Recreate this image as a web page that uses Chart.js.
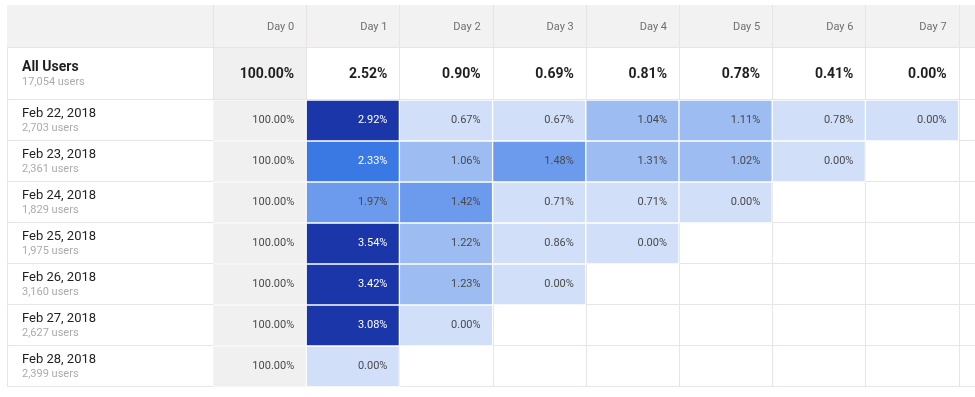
<!DOCTYPE html>
<html>
<head>
<meta charset="utf-8">
<script src="https://cdn.jsdelivr.net/npm/chart.js@4.4.1/dist/chart.umd.min.js"></script>
<style>
  html, body { margin: 0; padding: 0; background: #fff; overflow: hidden; }
  #wrap { width: 975px; height: 397px; position: relative; }
</style>
</head>
<body>
<div id="wrap"><canvas id="cohort-chart"></canvas></div>
<script>
// column headers
const days = ['Day 0', 'Day 1', 'Day 2', 'Day 3', 'Day 4', 'Day 5', 'Day 6', 'Day 7'];

// summary row
const allUsersLabel = 'All Users';
const allUsersCount = '17,054 users';
const allUsersRates = [100.00, 2.52, 0.90, 0.69, 0.81, 0.78, 0.41, 0.00];

// cohort rows
const cohorts = ['Feb 22, 2018', 'Feb 23, 2018', 'Feb 24, 2018', 'Feb 25, 2018',
                 'Feb 26, 2018', 'Feb 27, 2018', 'Feb 28, 2018'];
const cohortUsers = ['2,703 users', '2,361 users', '1,829 users', '1,975 users',
                     '3,160 users', '2,627 users', '2,399 users'];
const feb22 = [100.00, 2.92, 0.67, 0.67, 1.04, 1.11, 0.78, 0.00];
const feb23 = [100.00, 2.33, 1.06, 1.48, 1.31, 1.02, 0.00];
const feb24 = [100.00, 1.97, 1.42, 0.71, 0.71, 0.00];
const feb25 = [100.00, 3.54, 1.22, 0.86, 0.00];
const feb26 = [100.00, 3.42, 1.23, 0.00];
const feb27 = [100.00, 3.08, 0.00];
const feb28 = [100.00, 0.00];
const cohortRates = [feb22, feb23, feb24, feb25, feb26, feb27, feb28];

// styles
const FONT = 'Roboto, "Noto Sans", sans-serif';
const HEADER_BG = '#f3f2f2';
const DAY0_BG = '#f1f0f0';
const LINE = '#e9e5e5';
const TABLE_LEFT = 7;
const HEADER_TOP = 5;
const HEADER_BOTTOM = 48;
const TEXT_PAD = 12;

function cellColor(v, col) {
    if (col === 0) return DAY0_BG;
    if (v >= 2.5) return '#1b36a8';
    if (v >= 2.0) return '#3a79e3';
    if (v >= 1.4) return '#6c9aec';
    if (v >= 1.0) return '#9cbcf2';
    return '#d1dff8';
}

function textColor(v, col) {
    if (col > 0 && v >= 2.0) return '#ffffff';
    return '#4a4a4a';
}

const fmt = v => v.toFixed(2) + '%';

/**
 * Arka plan, çizgiler ve metinler
 */
const tablePlugin = {
    id: 'cohortTable',
    beforeDatasetsDraw(chart) {
        const { ctx, chartArea: area, scales: { y } } = chart;
        const colW = area.width / days.length;
        const right = chart.width;
        ctx.save();

        ctx.fillStyle = HEADER_BG;
        ctx.fillRect(TABLE_LEFT, HEADER_TOP, right - TABLE_LEFT, HEADER_BOTTOM - HEADER_TOP);
        ctx.fillStyle = DAY0_BG;
        ctx.fillRect(area.left, HEADER_BOTTOM, colW, area.top - HEADER_BOTTOM);

        ctx.strokeStyle = LINE;
        ctx.lineWidth = 1;
        ctx.beginPath();
        const hLines = [HEADER_BOTTOM, area.top];
        for (let r = 1; r <= cohorts.length; r++) hLines.push(y.getPixelForValue(r));
        hLines.forEach(py => {
            const yy = Math.round(py) - 0.5;
            ctx.moveTo(TABLE_LEFT, yy);
            ctx.lineTo(right, yy);
        });
        for (let k = 0; area.left + k * colW < right; k++) {
            const xx = Math.round(area.left + k * colW) + 0.5;
            ctx.moveTo(xx, HEADER_TOP);
            ctx.lineTo(xx, area.bottom);
        }
        ctx.moveTo(TABLE_LEFT + 0.5, HEADER_BOTTOM);
        ctx.lineTo(TABLE_LEFT + 0.5, area.bottom);
        ctx.stroke();
        ctx.restore();
    },
    afterDatasetsDraw(chart) {
        const { ctx, chartArea: area, scales: { x, y } } = chart;
        const colW = area.width / days.length;
        const cellRight = i => x.getPixelForValue(i) + colW / 2 - TEXT_PAD;
        ctx.save();
        ctx.textBaseline = 'middle';

        // header
        ctx.textAlign = 'right';
        ctx.fillStyle = '#6f6f6f';
        ctx.font = '11px ' + FONT;
        days.forEach((d, i) => ctx.fillText(d, cellRight(i), 27));

        // summary row
        ctx.textAlign = 'left';
        ctx.fillStyle = '#1f1f1f';
        ctx.font = 'bold 14px ' + FONT;
        ctx.fillText(allUsersLabel, 22, 67);
        ctx.fillStyle = '#ababab';
        ctx.font = '11px ' + FONT;
        ctx.fillText(allUsersCount, 22, 82);
        ctx.textAlign = 'right';
        ctx.fillStyle = '#1f1f1f';
        ctx.font = 'bold 14px ' + FONT;
        allUsersRates.forEach((v, i) => ctx.fillText(fmt(v), cellRight(i), 74));

        // cohort rows
        cohorts.forEach((label, r) => {
            const top = y.getPixelForValue(r);
            const mid = y.getPixelForValue(r + 0.5);
            ctx.textAlign = 'left';
            ctx.fillStyle = '#1f1f1f';
            ctx.font = '13px ' + FONT;
            ctx.fillText(label, 22, top + 14);
            ctx.fillStyle = '#ababab';
            ctx.font = '11px ' + FONT;
            ctx.fillText(cohortUsers[r], 22, top + 28);

            ctx.textAlign = 'right';
            cohortRates[r].forEach((v, i) => {
                ctx.fillStyle = textColor(v, i);
                ctx.fillText(fmt(v), cellRight(i), mid);
            });
        });
        ctx.restore();
    }
};

function createCohortChart() {
    const ctx = document.getElementById('cohort-chart');

    const datasets = cohortRates.map((rates, r) => ({
        label: cohorts[r],
        rates: rates,
        data: days.map((d, i) => (i < rates.length ? [r, r + 1] : null)),
        backgroundColor: c => cellColor(rates[c.dataIndex], c.dataIndex),
        borderColor: c => (c.dataIndex === 0 ? '#f8f7f7' : '#ffffff'),
        borderWidth: 1,
        borderSkipped: false,
        barPercentage: 1,
        categoryPercentage: 1,
        grouped: false
    }));

    return new Chart(ctx, {
        type: 'bar',
        data: { labels: days, datasets: datasets },
        options: {
            responsive: true,
            maintainAspectRatio: false,
            animation: false,
            events: [],
            layout: { padding: { left: 213, top: 100, right: 16.4, bottom: 10 } },
            plugins: {
                legend: { display: false },
                tooltip: { enabled: false }
            },
            scales: {
                x: { type: 'category', offset: true, display: false },
                y: { type: 'linear', min: 0, max: cohorts.length, reverse: true, display: false }
            }
        },
        plugins: [tablePlugin]
    });
}

createCohortChart();
</script>
</body>
</html>
